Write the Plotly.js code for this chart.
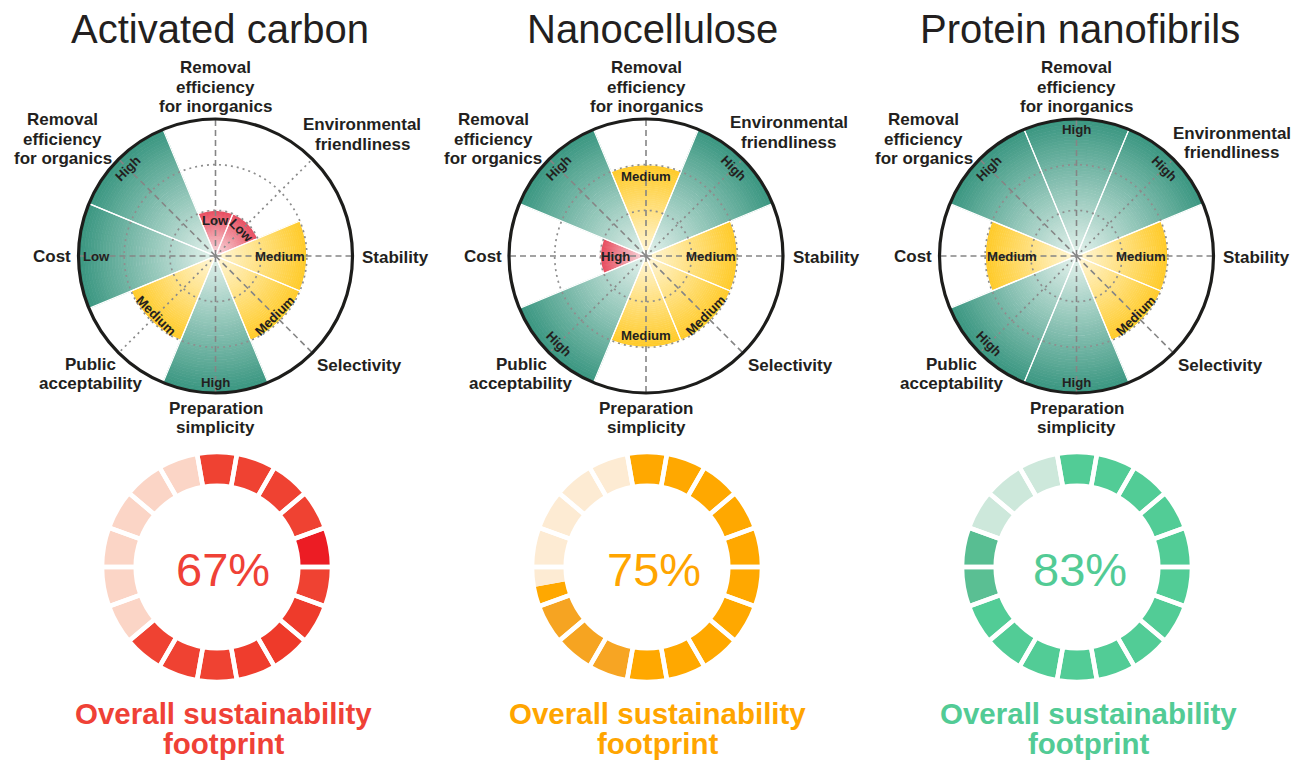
<!DOCTYPE html>
<html>
<head>
<meta charset="utf-8">
<script src="https://cdn.plot.ly/plotly-3.0.1.min.js"></script>
<style>
html,body{margin:0;padding:0;background:#ffffff;}
#chart{width:1293px;height:762px;}
</style>
</head>
<body>
<div id="chart"></div>
<script>
// ------------------------- DATA -------------------------
const materials = ["Activated carbon", "Nanocellulose", "Protein nanofibrils"];
const criteria = [
  "Removal<br>efficiency<br>for inorganics",
  "Environmental<br>friendliness",
  "Stability",
  "Selectivity",
  "Preparation<br>simplicity",
  "Public<br>acceptability",
  "Cost",
  "Removal<br>efficiency<br>for organics"
];
// score: 1 = poor (red), 2 = medium (yellow), 3 = good (green)
const scoresAC = [1, 1, 2, 2, 3, 2, 3, 3];
const scoresNC = [2, 3, 2, 2, 2, 3, 1, 3];
const scoresPN = [3, 3, 2, 2, 3, 3, 2, 3];
// text written inside each sector
const levelsAC = ["Low", "Low", "Medium", "Medium", "High", "Medium", "Low", "High"];
const levelsNC = ["Medium", "High", "Medium", "Medium", "Medium", "High", "High", "High"];
const levelsPN = ["High", "High", "Medium", "Medium", "High", "High", "Medium", "High"];
const scoreTicks = [1, 2, 3];
// overall footprint
const footprintPct = [67, 75, 83];
const ringSegments = [18, 18, 18];
const filledSegments = [12, 13.5, 15];
const footerLines = ["Overall sustainability", "footprint"];

// ------------------------- STYLE -------------------------
const W = 1293, H = 762;
const FONT = "Liberation Sans, Arial, Helvetica, sans-serif";
const DARK = "#231F20";
const panelCX = [215.5, 646, 1076.5], panelCY = 256, panelHalf = 137;
const frameScale = 1.5; // text frame extends beyond the wheel
const donutCX = [217, 647, 1077], donutCY = 567, donutHalf = 115, donutHole = 0.707;
const titleX = [220, 653, 1080], titleY = 29;
const pctX = [223, 654, 1080], pctY = 569;
const footX = [223, 657, 1088], footY = [713, 743];
const accent = ["#EF4232", "#FFA800", "#52CC96"];
const accentText = ["#EF4136", "#FFA500", "#52CB95"];
const lightSeg = ["#FBD5C6", "#FDEBD3", "#CDE8DB"];
// small shade variations along each ring (clockwise from the top segment)
const shadeOverrides = [
  {4: "#EC1C24", 6: "#EE3B2B", 7: "#EE3A2A", 8: "#EF3D2D"},
  {10: "#F7A523", 11: "#F6A421", 12: "#F6A422"},
  {13: "#5ABF93", 14: "#58BE92"}
];
const gradInner = {1: [250, 226, 230], 2: [255, 248, 220], 3: [230, 243, 238]};
const gradOuter = {1: [231, 74, 92], 2: [255, 202, 40], 3: [57, 150, 128]};
const K = 45;
// criteria label placement (radial-axis units): x, centre of first line, anchor
const lineStep = 0.427;
const labelPos = [
  {x: 0, y: 4.12, xa: "center"},
  {x: 3.21, y: 2.87, xa: "center"},
  {x: 3.17, y: -0.04, xa: "left"},
  {x: 2.18, y: -2.39, xa: "left"},
  {x: 0, y: -3.33, xa: "center"},
  {x: -2.73, y: -2.37, xa: "center"},
  {x: -3.11, y: 0, xa: "right"},
  {x: -3.34, y: 2.98, xa: "center"}
];
// per-panel nudges of individual labels
const labelNudge = [{}, {1: {x: -0.08, y: 0.05}}, {1: {x: 0.19, y: -0.18}}];

const allScores = [scoresAC, scoresNC, scoresPN];
const allLevels = [levelsAC, levelsNC, levelsPN];

function mix(a, b, t) {
  return "rgb(" + a.map((v, i) => Math.round(v + (b[i] - v) * t)).join(",") + ")";
}
const thetaOf = i => 90 - 45 * i;
const fx = px => px / W;
const fy = py => 1 - py / H;

const traces = [];
const annotations = [];
const layout = {
  width: W, height: H,
  margin: {l: 0, r: 0, t: 0, b: 0},
  paper_bgcolor: "#ffffff",
  plot_bgcolor: "rgba(0,0,0,0)",
  showlegend: false,
  hovermode: false,
  font: {family: FONT, color: DARK},
  annotations: annotations
};

materials.forEach((mat, p) => {
  const pid = p === 0 ? "polar" : "polar" + (p + 1);
  const xa = p === 0 ? "x" : "x" + (p + 1);
  const ya = p === 0 ? "y" : "y" + (p + 1);
  const scores = allScores[p];
  const levels = allLevels[p];
  const theta = criteria.map((c, i) => thetaOf(i));
  const rMax = scoreTicks[scoreTicks.length - 1];

  // gradient-filled sectors (stacked rings)
  for (let k = 0; k < K; k++) {
    const cols = scores.map(s => mix(gradInner[s], gradOuter[s], (k + 0.5) / K));
    traces.push({
      type: "barpolar", subplot: pid,
      r: scores.map(s => s / K), base: scores.map(s => s * k / K),
      theta: theta, width: 45,
      marker: {color: cols, line: {color: cols, width: 0.7}},
      hoverinfo: "skip", showlegend: false
    });
  }
  // thin white borders between sectors
  traces.push({
    type: "barpolar", subplot: pid, r: scores, theta: theta, width: 45,
    marker: {color: "rgba(0,0,0,0)", line: {color: "#ffffff", width: 1.2}},
    hoverinfo: "skip", showlegend: false
  });
  // dotted level circles
  const gr = [], gt = [];
  scoreTicks.slice(0, -1).forEach(lv => {
    for (let a = 0; a <= 360; a += 2) { gr.push(lv); gt.push(a); }
    gr.push(null); gt.push(null);
  });
  traces.push({
    type: "scatterpolar", subplot: pid, mode: "lines", r: gr, theta: gt,
    line: {color: "#8E8E8E", width: 1.7, dash: "2px,4px"},
    hoverinfo: "skip", showlegend: false
  });
  // spokes
  const dashR = [], dashT = [], dotR = [], dotT = [];
  theta.forEach((t, i) => {
    if (i === 1 || i === 5) { dotR.push(0, rMax, null); dotT.push(t, t, null); }
    else { dashR.push(0, rMax, null); dashT.push(t, t, null); }
  });
  traces.push({
    type: "scatterpolar", subplot: pid, mode: "lines", r: dashR, theta: dashT,
    line: {color: "#858585", width: 1.6, dash: "6px,4px"},
    hoverinfo: "skip", showlegend: false
  });
  traces.push({
    type: "scatterpolar", subplot: pid, mode: "lines", r: dotR, theta: dotT,
    line: {color: "#8A8A8A", width: 1.7, dash: "2px,4px"},
    hoverinfo: "skip", showlegend: false
  });

  const dx = [fx(panelCX[p] - panelHalf), fx(panelCX[p] + panelHalf)];
  const dy = [fy(panelCY + panelHalf), fy(panelCY - panelHalf)];
  layout[pid] = {
    domain: {x: dx, y: dy},
    bgcolor: "rgba(0,0,0,0)",
    bargap: 0,
    hole: 0,
    radialaxis: {range: [0, rMax], visible: false, showgrid: false},
    angularaxis: {
      type: "linear", thetaunit: "degrees", rotation: 0, direction: "counterclockwise",
      showgrid: false, showticklabels: false, ticks: "",
      showline: true, linecolor: "#1D1D1B", linewidth: 3.2, layer: "above traces"
    }
  };
  // overlay cartesian frame used for the text around/inside the wheel
  const fh = panelHalf * frameScale, fr = rMax * frameScale;
  const xKey = p === 0 ? "xaxis" : "xaxis" + (p + 1);
  const yKey = p === 0 ? "yaxis" : "yaxis" + (p + 1);
  layout[xKey] = {domain: [fx(panelCX[p] - fh), fx(panelCX[p] + fh)], range: [-fr, fr], visible: false, fixedrange: true, anchor: ya};
  layout[yKey] = {domain: [fy(panelCY + fh), fy(panelCY - fh)], range: [-fr, fr], visible: false, fixedrange: true, anchor: xa};
  traces.push({type: "scatter", x: [], y: [], xaxis: xa, yaxis: ya, hoverinfo: "skip", showlegend: false});

  // criteria labels (one annotation per line for tight line spacing)
  criteria.forEach((c, i) => {
    const lp = labelPos[i];
    const nd = labelNudge[p][i] || {x: 0, y: 0};
    c.split("<br>").forEach((ln, j) => {
      annotations.push({
        xref: xa, yref: ya, x: lp.x + nd.x, y: lp.y + nd.y - j * lineStep,
        xanchor: lp.xa, yanchor: "middle",
        text: ln, showarrow: false,
        font: {family: FONT, size: 17, color: DARK, weight: 700}
      });
    });
  });
  // level labels inside the sectors
  levels.forEach((lv, i) => {
    const s = scores[i];
    let rl, ang = 0;
    if (i === 0 || i === 4) rl = s === 3 ? 2.76 : (s === 2 ? 1.74 : 0.78);
    else if (i === 2 || i === 6) rl = s === 3 ? 2.6 : (s === 2 ? 1.42 : 0.66);
    else { rl = s === 3 ? 2.72 : (s === 2 ? 1.85 : 0.8); ang = (i === 1 || i === 5) ? 45 : -45; }
    const t = thetaOf(i) * Math.PI / 180;
    annotations.push({
      xref: xa, yref: ya, x: rl * Math.cos(t), y: rl * Math.sin(t),
      xanchor: "center", yanchor: "middle", textangle: ang,
      text: lv, showarrow: false,
      font: {family: FONT, size: 13.2, color: DARK, weight: 700}
    });
  });

  // title
  annotations.push({
    xref: "paper", yref: "paper", x: fx(titleX[p]), y: fy(titleY),
    xanchor: "center", yanchor: "middle", text: mat, showarrow: false,
    font: {family: FONT, size: 40, color: DARK}
  });

  // donut ring
  const nSeg = ringSegments[p];
  const filled = filledSegments[p];
  const vals = [], cols = [];
  for (let k = 0; k < nSeg; k++) {
    const fcol = shadeOverrides[p][k] || accent[p];
    if (k + 1 <= filled) { vals.push(1); cols.push(fcol); }
    else if (k < filled) {
      vals.push(filled - k); cols.push(fcol);
      vals.push(k + 1 - filled); cols.push(lightSeg[p]);
    } else { vals.push(1); cols.push(lightSeg[p]); }
  }
  const ddx = [fx(donutCX[p] - donutHalf), fx(donutCX[p] + donutHalf)];
  const ddy = [fy(donutCY + donutHalf), fy(donutCY - donutHalf)];
  traces.push({
    type: "pie", values: vals, marker: {colors: cols, line: {width: 0}},
    hole: donutHole, domain: {x: ddx, y: ddy}, sort: false,
    direction: "clockwise", rotation: -10, textinfo: "none",
    hoverinfo: "skip", showlegend: false
  });
  // white gaps between the segments
  const gapVals = [];
  for (let k = 0; k < nSeg; k++) gapVals.push(1);
  traces.push({
    type: "pie", values: gapVals,
    marker: {colors: gapVals.map(() => "rgba(0,0,0,0)"), line: {color: "#ffffff", width: 4.5}},
    hole: donutHole, domain: {x: ddx, y: ddy}, sort: false,
    direction: "clockwise", rotation: -10, textinfo: "none",
    hoverinfo: "skip", showlegend: false
  });
  annotations.push({
    xref: "paper", yref: "paper", x: fx(pctX[p]), y: fy(pctY),
    xanchor: "center", yanchor: "middle", text: footprintPct[p] + "%", showarrow: false,
    font: {family: FONT, size: 47, color: accentText[p]}
  });
  footerLines.forEach((ln, j) => {
    annotations.push({
      xref: "paper", yref: "paper", x: fx(footX[p]), y: fy(footY[j]),
      xanchor: "center", yanchor: "middle", text: ln, showarrow: false,
      font: {family: FONT, size: 29.5, color: accentText[p], weight: 700}
    });
  });
});

Plotly.newPlot("chart", traces, layout, {displayModeBar: false, staticPlot: true});
</script>
</body>
</html>
